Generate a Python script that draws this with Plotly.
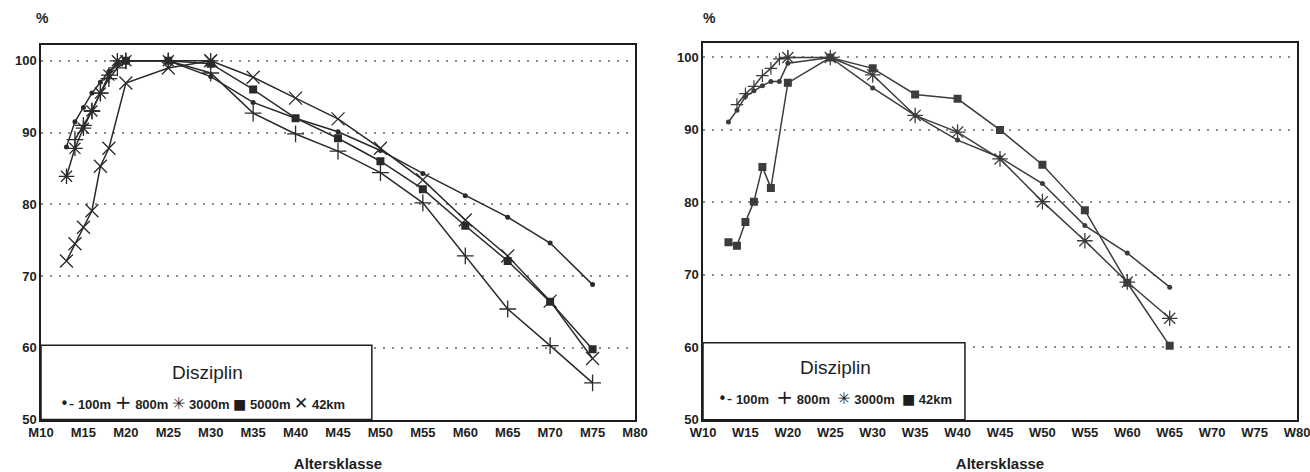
import plotly.graph_objects as go

# ---- Männer (M) -------------------------------------------------------
m_100_age = [13, 14, 15, 16, 17, 18, 19, 20, 25, 30, 35, 40, 45, 50, 55, 60, 65, 70, 75]
m_100 = [88.0, 91.5, 93.5, 95.5, 97.0, 98.5, 99.5, 100, 100, 97.8, 94.2, 92.0, 90.1, 87.5, 84.3, 81.2, 78.2, 74.6, 68.8]

m_800_age = [14, 15, 16, 17, 18, 19, 20, 25, 30, 35, 40, 45, 50, 55, 60, 65, 70, 75]
m_800 = [89.0, 91.0, 93.0, 95.5, 97.5, 99.0, 100, 100, 98.3, 92.7, 89.8, 87.4, 84.4, 80.2, 72.8, 65.4, 60.3, 55.1]

m_3000_age = [13, 14, 15, 16, 17, 18, 19, 20, 25, 30]
m_3000 = [83.9, 87.8, 90.6, 93.0, 95.5, 98.0, 100, 100, 100, 100]

m_5000_age = [20, 25, 30, 35, 40, 45, 50, 55, 60, 65, 70, 75]
m_5000 = [100, 100, 99.6, 96.0, 92.0, 89.2, 86.0, 82.1, 77.0, 72.1, 66.4, 59.8]

m_42_age = [13, 14, 15, 16, 17, 18, 20, 25, 30, 35, 40, 45, 50, 55, 60, 65, 70, 75]
m_42 = [72.1, 74.5, 76.8, 79.1, 85.3, 87.8, 96.9, 99.0, 100, 97.7, 94.8, 91.9, 87.8, 83.4, 77.8, 72.8, 66.5, 58.5]

# ---- Frauen (W) -------------------------------------------------------
w_100_age = [13, 14, 15, 16, 17, 18, 19, 20, 25, 30, 35, 40, 45, 50, 55, 60, 65]
w_100 = [91.1, 92.7, 94.6, 95.4, 96.1, 96.7, 96.7, 99.2, 100, 95.8, 92.0, 88.6, 86.2, 82.6, 76.8, 73.0, 68.3]

w_800_age = [14, 15, 16, 17, 18, 19, 20]
w_800 = [93.5, 95.0, 96.0, 97.5, 98.5, 99.8, 100]

w_3000_age = [20, 25, 30, 35, 40, 45, 50, 55, 60, 65]
w_3000 = [100, 100, 97.6, 92.0, 89.7, 86.0, 80.1, 74.7, 69.0, 64.0]

w_42_age = [13, 14, 15, 16, 17, 18, 20, 25, 30, 35, 40, 45, 50, 55, 60, 65]
w_42 = [74.5, 74.0, 77.3, 80.1, 84.9, 82.0, 96.5, 100, 98.5, 94.9, 94.3, 90.0, 85.2, 78.9, 68.9, 60.2]

age_ticks = list(range(10, 81, 5))
m_ticktext = ["M%d" % a for a in age_ticks]
w_ticktext = ["W%d" % a for a in age_ticks]
y_ticks = [50, 60, 70, 80, 90, 100]

FONT = "Liberation Sans, Arial, sans-serif"
INK = "#1e1e1e"

DOT = dict(symbol="circle", size=5)
CROSS = dict(symbol="cross-thin", size=12, line=dict(width=1.3))
CROSS_SMALL = dict(symbol="cross-thin", size=9, line=dict(width=1.2))
STAR = dict(symbol="asterisk", size=13, line=dict(width=1.3))
SQUARE = dict(symbol="square", size=8)
XMARK = dict(symbol="x-thin", size=13, line=dict(width=1.3))

fig = go.Figure()


def add_series(x, y, name, marker, xa, ya, color):
    mk = dict(marker)
    mk["color"] = color
    if "line" in mk:
        mk["line"] = dict(mk["line"], color=color)
    fig.add_trace(go.Scatter(
        x=x, y=y, name=name, mode="lines+markers", showlegend=False,
        line=dict(color=color, width=1.5), marker=mk,
        xaxis=xa, yaxis=ya,
    ))


LEFT_C = "#2a2a2a"
RIGHT_C = "#3c3c3c"
add_series(m_100_age, m_100, "100m", DOT, "x", "y", LEFT_C)
add_series(m_800_age, m_800, "800m", CROSS, "x", "y", LEFT_C)
add_series(m_3000_age, m_3000, "3000m", STAR, "x", "y", LEFT_C)
add_series(m_5000_age, m_5000, "5000m", SQUARE, "x", "y", LEFT_C)
add_series(m_42_age, m_42, "42km", XMARK, "x", "y", LEFT_C)

add_series(w_100_age, w_100, "100m", DOT, "x2", "y2", RIGHT_C)
add_series(w_800_age, w_800, "800m", CROSS_SMALL, "x2", "y2", RIGHT_C)
add_series(w_3000_age, w_3000, "3000m", STAR, "x2", "y2", RIGHT_C)
add_series(w_42_age, w_42, "42km", SQUARE, "x2", "y2", RIGHT_C)

W, H = 1310, 472


def xdom(a, b):
    return [a / W, b / W]


def ydom(bottom, top):
    return [(H - bottom) / H, (H - top) / H]


axis_common = dict(
    showline=True, mirror=True, linecolor=INK, linewidth=1.5,
    ticks="", zeroline=False, automargin=False, ticklabeloverflow="allow",
    tickfont=dict(family=FONT, size=13, color=INK, weight="bold"),
)
x_common = dict(axis_common, range=[10, 80], tickvals=age_ticks, showgrid=False,
                title=dict(text="Altersklasse", font=dict(family=FONT, size=15, color=INK, weight="bold"),
                           standoff=20))
y_common = dict(axis_common, tickvals=y_ticks, showgrid=True, gridcolor="#8a8a8a",
                gridwidth=1.5, griddash="2px,7px")

# legend keys, one text row per panel: (glyph, glyph size, label)
SYM = "<span style='font-family:DejaVu Sans;font-size:%dpx;font-weight:normal;color:#1e1e1e'>%s</span>"
m_keys = [("•-", 15, "100m"), ("+", 20, "800m"), ("\u2733\ufe0e", 16, "3000m"),
          ("■", 14, "5000m"), ("✕", 17, "42km")]
w_keys = [("•-", 15, "100m"), ("+", 20, "800m"), ("\u2733\ufe0e", 16, "3000m"), ("■", 14, "42km")]


def key_row(keys, gap):
    return gap.join((SYM % (size, s)) + "&nbsp;" + lab for s, size, lab in keys)


def txt(text, x, y, size, weight="normal"):
    return dict(text=text, x=x / W, y=(H - y) / H, xref="paper", yref="paper", showarrow=False,
                xanchor="center", yanchor="middle",
                font=dict(family=FONT, size=size, color=INK, weight=weight))


fig.update_layout(
    width=W, height=H, autosize=False,
    margin=dict(l=0, r=0, t=0, b=0),
    paper_bgcolor="white", plot_bgcolor="white",
    font=dict(family=FONT, color=INK),
    showlegend=False,
    xaxis=dict(x_common, domain=xdom(41, 635), ticktext=m_ticktext, anchor="y"),
    yaxis=dict(y_common, domain=ydom(419.5, 45), range=[50, 102.2], anchor="x"),
    xaxis2=dict(x_common, domain=xdom(703, 1297), ticktext=w_ticktext, anchor="y2"),
    yaxis2=dict(y_common, domain=ydom(419.7, 43), range=[50, 102.0], anchor="x2"),
    shapes=[
        dict(type="rect", xref="x domain", yref="y domain", x0=0, x1=0.557, y0=0, y1=0.198,
             line=dict(color=INK, width=1.5), fillcolor="white", layer="above"),
        dict(type="rect", xref="x2 domain", yref="y2 domain", x0=0, x1=0.441, y0=0, y1=0.204,
             line=dict(color=INK, width=1.5), fillcolor="white", layer="above"),
    ],
    annotations=[
        txt("%", 42, 18, 14, "bold"),
        txt("%", 709, 18, 14, "bold"),
        txt("Disziplin", 207, 372, 19),
        txt(key_row(m_keys, "&nbsp;"), 202, 402, 13, "bold"),
        txt("Disziplin", 835, 367, 19),
        txt(key_row(w_keys, "&nbsp;&nbsp;"), 835, 397, 13, "bold"),
    ],
)

fig.write_html("out.html")
